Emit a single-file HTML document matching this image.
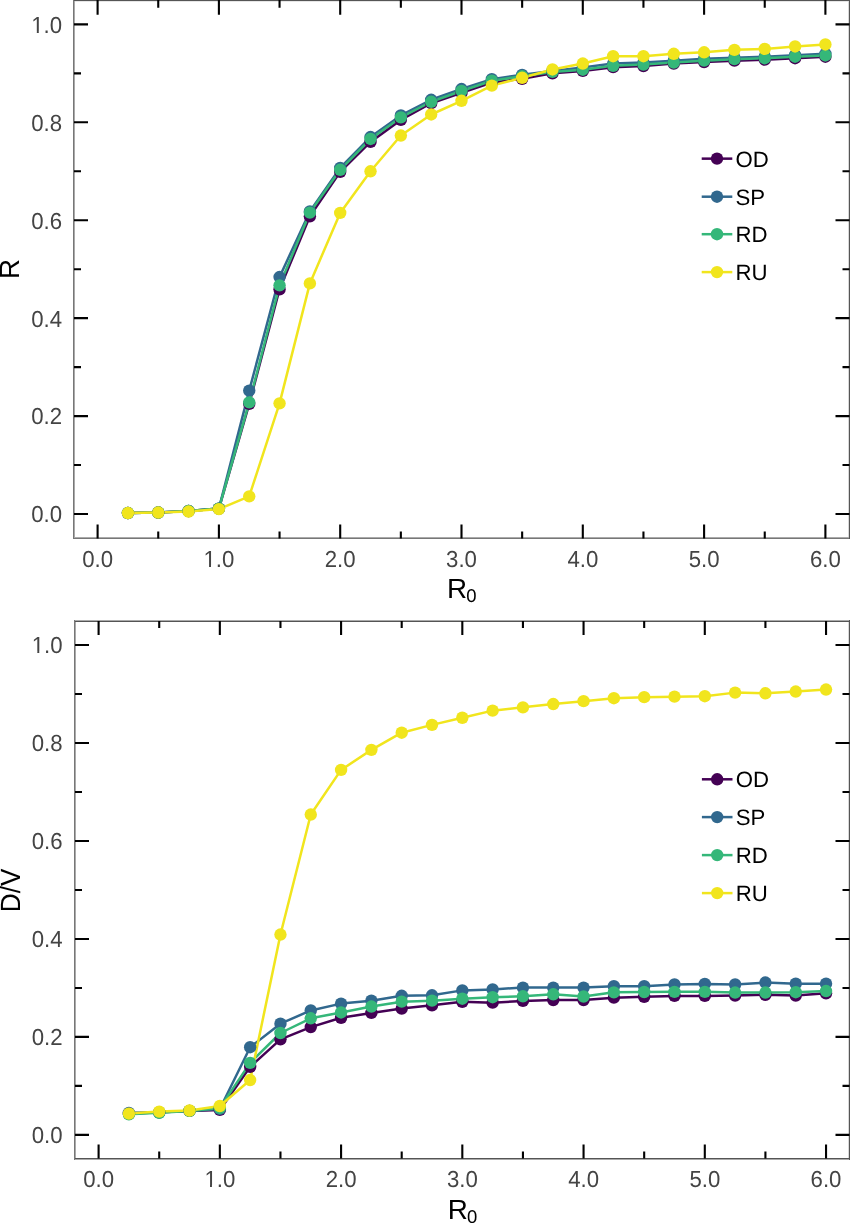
<!DOCTYPE html>
<html><head><meta charset="utf-8"><title>R and D/V vs R0</title>
<style>
html,body{margin:0;padding:0;background:#fff;}
body{width:850px;height:1223px;overflow:hidden;}
svg{display:block;font-family:"Liberation Sans", sans-serif;will-change:transform;text-rendering:geometricPrecision;}
</style></head>
<body>
<svg width="850" height="1223" viewBox="0 0 850 1223">
<rect width="850" height="1223" fill="#fff"/>
<defs><clipPath id="c0"><path clip-rule="evenodd" d="M0 0H850 V1223 H0Z M204.55 565.07H209.05V568.5H204.55Z M211.01 565.07H215.39V568.5H211.01Z"/></clipPath><clipPath id="c1"><path clip-rule="evenodd" d="M0 0H850 V1223 H0Z M32.32 31.07H36.82V34.5H32.32Z M38.78 31.07H43.16V34.5H38.78Z"/></clipPath><clipPath id="c2"><path clip-rule="evenodd" d="M0 0H850 V1223 H0Z M205.49 1185.07H209.99V1188.5H205.49Z M211.95 1185.07H216.33V1188.5H211.95Z"/></clipPath><clipPath id="c3"><path clip-rule="evenodd" d="M0 0H850 V1223 H0Z M32.82 651.07H37.32V654.5H32.82Z M39.28 651.07H43.66V654.5H39.28Z"/></clipPath></defs>
<polyline points="127.92,513.02 158.25,512.53 188.57,511.06 218.9,508.61 249.22,403.84 279.55,289.27 309.88,216.32 340.2,171.77 370.52,141.9 400.85,119.87 431.17,103.23 461.5,92.94 491.82,82.66 522.15,78.75 552.48,73.36 582.8,70.91 613.12,67.14 643.45,66.02 673.77,63.57 704.1,62.1 734.42,60.63 764.75,59.65 795.08,58.18 825.4,56.71" fill="none" stroke="#440154" stroke-width="2.5" stroke-linejoin="round" stroke-linecap="butt"/>
<polyline points="127.92,513.02 158.25,512.53 188.57,511.06 218.9,508.61 249.22,390.62 279.55,277.03 309.88,211.43 340.2,167.85 370.52,137.01 400.85,115.47 431.17,99.8 461.5,89.03 491.82,79.24 522.15,74.83 552.48,70.91 582.8,67.48 613.12,63.57 643.45,62.59 673.77,60.63 704.1,58.67 734.42,57.69 764.75,56.71 795.08,55.24 825.4,53.78" fill="none" stroke="#31688e" stroke-width="2.5" stroke-linejoin="round" stroke-linecap="butt"/>
<polyline points="127.92,513.02 158.25,512.53 188.57,511.06 218.9,508.61 249.22,402.37 279.55,285.36 309.88,212.65 340.2,169.81 370.52,138.97 400.85,117.42 431.17,101.76 461.5,90.99 491.82,80.7 522.15,76.3 552.48,71.89 582.8,69.69 613.12,65.77 643.45,64.55 673.77,62.59 704.1,60.63 734.42,59.16 764.75,58.18 795.08,56.71 825.4,55.49" fill="none" stroke="#35b779" stroke-width="2.5" stroke-linejoin="round" stroke-linecap="butt"/>
<polyline points="127.92,513.02 158.25,512.53 188.57,511.55 218.9,509.1 249.22,496.37 279.55,403.35 309.88,283.4 340.2,212.9 370.52,171.28 400.85,135.54 431.17,114.49 461.5,100.78 491.82,85.6 522.15,77.77 552.48,69.44 582.8,63.57 613.12,56.22 643.45,56.22 673.77,53.78 704.1,52.31 734.42,49.86 764.75,48.88 795.08,46.43 825.4,44.47" fill="none" stroke="#f1e51d" stroke-width="2.5" stroke-linejoin="round" stroke-linecap="butt"/>
<g fill="#440154">
<circle cx="127.92" cy="513.02" r="6.2"/>
<circle cx="158.25" cy="512.53" r="6.2"/>
<circle cx="188.57" cy="511.06" r="6.2"/>
<circle cx="218.9" cy="508.61" r="6.2"/>
<circle cx="249.22" cy="403.84" r="6.2"/>
<circle cx="279.55" cy="289.27" r="6.2"/>
<circle cx="309.88" cy="216.32" r="6.2"/>
<circle cx="340.2" cy="171.77" r="6.2"/>
<circle cx="370.52" cy="141.9" r="6.2"/>
<circle cx="400.85" cy="119.87" r="6.2"/>
<circle cx="431.17" cy="103.23" r="6.2"/>
<circle cx="461.5" cy="92.94" r="6.2"/>
<circle cx="491.82" cy="82.66" r="6.2"/>
<circle cx="522.15" cy="78.75" r="6.2"/>
<circle cx="552.48" cy="73.36" r="6.2"/>
<circle cx="582.8" cy="70.91" r="6.2"/>
<circle cx="613.12" cy="67.14" r="6.2"/>
<circle cx="643.45" cy="66.02" r="6.2"/>
<circle cx="673.77" cy="63.57" r="6.2"/>
<circle cx="704.1" cy="62.1" r="6.2"/>
<circle cx="734.42" cy="60.63" r="6.2"/>
<circle cx="764.75" cy="59.65" r="6.2"/>
<circle cx="795.08" cy="58.18" r="6.2"/>
<circle cx="825.4" cy="56.71" r="6.2"/>
</g>
<g fill="#31688e">
<circle cx="127.92" cy="513.02" r="6.2"/>
<circle cx="158.25" cy="512.53" r="6.2"/>
<circle cx="188.57" cy="511.06" r="6.2"/>
<circle cx="218.9" cy="508.61" r="6.2"/>
<circle cx="249.22" cy="390.62" r="6.2"/>
<circle cx="279.55" cy="277.03" r="6.2"/>
<circle cx="309.88" cy="211.43" r="6.2"/>
<circle cx="340.2" cy="167.85" r="6.2"/>
<circle cx="370.52" cy="137.01" r="6.2"/>
<circle cx="400.85" cy="115.47" r="6.2"/>
<circle cx="431.17" cy="99.8" r="6.2"/>
<circle cx="461.5" cy="89.03" r="6.2"/>
<circle cx="491.82" cy="79.24" r="6.2"/>
<circle cx="522.15" cy="74.83" r="6.2"/>
<circle cx="552.48" cy="70.91" r="6.2"/>
<circle cx="582.8" cy="67.48" r="6.2"/>
<circle cx="613.12" cy="63.57" r="6.2"/>
<circle cx="643.45" cy="62.59" r="6.2"/>
<circle cx="673.77" cy="60.63" r="6.2"/>
<circle cx="704.1" cy="58.67" r="6.2"/>
<circle cx="734.42" cy="57.69" r="6.2"/>
<circle cx="764.75" cy="56.71" r="6.2"/>
<circle cx="795.08" cy="55.24" r="6.2"/>
<circle cx="825.4" cy="53.78" r="6.2"/>
</g>
<g fill="#35b779">
<circle cx="127.92" cy="513.02" r="6.2"/>
<circle cx="158.25" cy="512.53" r="6.2"/>
<circle cx="188.57" cy="511.06" r="6.2"/>
<circle cx="218.9" cy="508.61" r="6.2"/>
<circle cx="249.22" cy="402.37" r="6.2"/>
<circle cx="279.55" cy="285.36" r="6.2"/>
<circle cx="309.88" cy="212.65" r="6.2"/>
<circle cx="340.2" cy="169.81" r="6.2"/>
<circle cx="370.52" cy="138.97" r="6.2"/>
<circle cx="400.85" cy="117.42" r="6.2"/>
<circle cx="431.17" cy="101.76" r="6.2"/>
<circle cx="461.5" cy="90.99" r="6.2"/>
<circle cx="491.82" cy="80.7" r="6.2"/>
<circle cx="522.15" cy="76.3" r="6.2"/>
<circle cx="552.48" cy="71.89" r="6.2"/>
<circle cx="582.8" cy="69.69" r="6.2"/>
<circle cx="613.12" cy="65.77" r="6.2"/>
<circle cx="643.45" cy="64.55" r="6.2"/>
<circle cx="673.77" cy="62.59" r="6.2"/>
<circle cx="704.1" cy="60.63" r="6.2"/>
<circle cx="734.42" cy="59.16" r="6.2"/>
<circle cx="764.75" cy="58.18" r="6.2"/>
<circle cx="795.08" cy="56.71" r="6.2"/>
<circle cx="825.4" cy="55.49" r="6.2"/>
</g>
<g fill="#f1e51d">
<circle cx="127.92" cy="513.02" r="6.2"/>
<circle cx="158.25" cy="512.53" r="6.2"/>
<circle cx="188.57" cy="511.55" r="6.2"/>
<circle cx="218.9" cy="509.1" r="6.2"/>
<circle cx="249.22" cy="496.37" r="6.2"/>
<circle cx="279.55" cy="403.35" r="6.2"/>
<circle cx="309.88" cy="283.4" r="6.2"/>
<circle cx="340.2" cy="212.9" r="6.2"/>
<circle cx="370.52" cy="171.28" r="6.2"/>
<circle cx="400.85" cy="135.54" r="6.2"/>
<circle cx="431.17" cy="114.49" r="6.2"/>
<circle cx="461.5" cy="100.78" r="6.2"/>
<circle cx="491.82" cy="85.6" r="6.2"/>
<circle cx="522.15" cy="77.77" r="6.2"/>
<circle cx="552.48" cy="69.44" r="6.2"/>
<circle cx="582.8" cy="63.57" r="6.2"/>
<circle cx="613.12" cy="56.22" r="6.2"/>
<circle cx="643.45" cy="56.22" r="6.2"/>
<circle cx="673.77" cy="53.78" r="6.2"/>
<circle cx="704.1" cy="52.31" r="6.2"/>
<circle cx="734.42" cy="49.86" r="6.2"/>
<circle cx="764.75" cy="48.88" r="6.2"/>
<circle cx="795.08" cy="46.43" r="6.2"/>
<circle cx="825.4" cy="44.47" r="6.2"/>
</g>
<line x1="701.7" y1="158.65" x2="732.3" y2="158.65" stroke="#440154" stroke-width="2.5"/>
<circle cx="717" cy="158.65" r="6.2" fill="#440154"/>
<g transform="translate(735.5,167)"><text x="0" y="0" font-size="22.2" fill="#000">OD</text></g>
<line x1="701.7" y1="196.7" x2="732.3" y2="196.7" stroke="#31688e" stroke-width="2.5"/>
<circle cx="717" cy="196.7" r="6.2" fill="#31688e"/>
<g transform="translate(735.5,205)"><text x="0" y="0" font-size="22.2" fill="#000">SP</text></g>
<line x1="701.7" y1="234.2" x2="732.3" y2="234.2" stroke="#35b779" stroke-width="2.5"/>
<circle cx="717" cy="234.2" r="6.2" fill="#35b779"/>
<g transform="translate(735.5,242)"><text x="0" y="0" font-size="22.2" fill="#000">RD</text></g>
<line x1="701.7" y1="272.1" x2="732.3" y2="272.1" stroke="#f1e51d" stroke-width="2.5"/>
<circle cx="717" cy="272.1" r="6.2" fill="#f1e51d"/>
<g transform="translate(735.5,280)"><text x="0" y="0" font-size="22.2" fill="#000">RU</text></g>
<rect x="73" y="0" width="777" height="1" fill="#555"/>
<rect x="73" y="1" width="777" height="1" fill="#e6e6e6"/>
<rect x="73" y="537" width="777" height="1" fill="#aaa"/>
<rect x="73" y="538" width="777" height="1" fill="#777"/>
<rect x="73" y="0" width="1" height="539" fill="#777"/>
<rect x="74" y="1" width="1" height="536" fill="#aaa"/>
<rect x="848" y="1" width="1" height="536" fill="#d8d8d8"/>
<rect x="849" y="0" width="1" height="539" fill="#555"/>
<path d="M97.6 538.5v-14M97.6 0v14.7M158.25 538.5v-7M158.25 0v7.7M218.9 538.5v-14M218.9 0v14.7M279.55 538.5v-7M279.55 0v7.7M340.2 538.5v-14M340.2 0v14.7M400.85 538.5v-7M400.85 0v7.7M461.5 538.5v-14M461.5 0v14.7M522.15 538.5v-7M522.15 0v7.7M582.8 538.5v-14M582.8 0v14.7M643.45 538.5v-7M643.45 0v7.7M704.1 538.5v-14M704.1 0v14.7M764.75 538.5v-7M764.75 0v7.7M825.4 538.5v-14M825.4 0v14.7M74 514h14M849.5 514h-14M74 465.04h7M849.5 465.04h-7M74 416.08h14M849.5 416.08h-14M74 367.12h7M849.5 367.12h-7M74 318.16h14M849.5 318.16h-14M74 269.2h7M849.5 269.2h-7M74 220.24h14M849.5 220.24h-14M74 171.28h7M849.5 171.28h-7M74 122.32h14M849.5 122.32h-14M74 73.36h7M849.5 73.36h-7M74 24.4h14M849.5 24.4h-14" stroke="#000" stroke-width="2.1" fill="none"/>
<g transform="translate(97.6,567) scale(1,1.045)"><text x="0" y="0" font-size="22.2" fill="#444444" text-anchor="middle">0.0</text></g>
<g clip-path="url(#c0)"><g transform="translate(218.9,567) scale(1,1.045)"><text x="0" y="0" font-size="22.2" fill="#444444" text-anchor="middle">1.0</text></g></g>
<g transform="translate(340.2,567) scale(1,1.045)"><text x="0" y="0" font-size="22.2" fill="#444444" text-anchor="middle">2.0</text></g>
<g transform="translate(461.5,567) scale(1,1.045)"><text x="0" y="0" font-size="22.2" fill="#444444" text-anchor="middle">3.0</text></g>
<g transform="translate(582.8,567) scale(1,1.045)"><text x="0" y="0" font-size="22.2" fill="#444444" text-anchor="middle">4.0</text></g>
<g transform="translate(704.1,567) scale(1,1.045)"><text x="0" y="0" font-size="22.2" fill="#444444" text-anchor="middle">5.0</text></g>
<g transform="translate(825.4,567) scale(1,1.045)"><text x="0" y="0" font-size="22.2" fill="#444444" text-anchor="middle">6.0</text></g>
<g transform="translate(62.1,522) scale(1,1.045)"><text x="0" y="0" font-size="22.2" fill="#444444" text-anchor="end">0.0</text></g>
<g transform="translate(62.1,424) scale(1,1.045)"><text x="0" y="0" font-size="22.2" fill="#444444" text-anchor="end">0.2</text></g>
<g transform="translate(62.1,327) scale(1,1.045)"><text x="0" y="0" font-size="22.2" fill="#444444" text-anchor="end">0.4</text></g>
<g transform="translate(62.1,229) scale(1,1.045)"><text x="0" y="0" font-size="22.2" fill="#444444" text-anchor="end">0.6</text></g>
<g transform="translate(62.1,131) scale(1,1.045)"><text x="0" y="0" font-size="22.2" fill="#444444" text-anchor="end">0.8</text></g>
<g clip-path="url(#c1)"><g transform="translate(62.1,33) scale(1,1.045)"><text x="0" y="0" font-size="22.2" fill="#444444" text-anchor="end">1.0</text></g></g>
<g transform="translate(447,598)"><text x="0" y="0" font-size="27.8" fill="#000">R<tspan x="19.2" y="4.4" font-size="18.5">0</tspan></text></g>
<g transform="translate(19.4,269) rotate(-90)"><text x="0" y="0" font-size="27.8" fill="#000" text-anchor="middle">R</text></g>
<polyline points="128.91,1113.83 159.22,1112.36 189.53,1110.89 219.84,1109.92 250.15,1066.8 280.46,1039.37 310.77,1027.12 341.08,1017.81 371.39,1012.91 401.7,1008.51 432.01,1005.32 462.32,1001.79 492.63,1002.63 522.94,1000.91 553.25,1000.03 583.56,1000.03 613.87,997.63 644.18,996.8 674.49,995.92 704.8,995.92 735.11,995.62 765.42,994.79 795.73,995.62 826.04,993.32" fill="none" stroke="#440154" stroke-width="2.5" stroke-linejoin="round" stroke-linecap="butt"/>
<polyline points="128.91,1112.85 159.22,1112.36 189.53,1110.89 219.84,1108.94 250.15,1047.21 280.46,1023.69 310.77,1010.47 341.08,1003.61 371.39,1000.67 401.7,995.77 432.01,995.28 462.32,990.38 492.63,989.4 522.94,987.59 553.25,987.59 583.56,987.59 613.87,986.22 644.18,986.22 674.49,984.4 704.8,983.91 735.11,984.5 765.42,982.54 795.73,983.72 826.04,983.72" fill="none" stroke="#31688e" stroke-width="2.5" stroke-linejoin="round" stroke-linecap="butt"/>
<polyline points="128.91,1114.32 159.22,1112.85 189.53,1110.89 219.84,1107.96 250.15,1062.88 280.46,1033 310.77,1018.3 341.08,1012.43 371.39,1006.55 401.7,1001.65 432.01,1000.67 462.32,998.71 492.63,997.24 522.94,996.26 553.25,994.3 583.56,996.5 613.87,992.34 644.18,992 674.49,991.85 704.8,991.85 735.11,992.54 765.42,992.54 795.73,992.24 826.04,991.02" fill="none" stroke="#35b779" stroke-width="2.5" stroke-linejoin="round" stroke-linecap="butt"/>
<polyline points="128.91,1113.59 159.22,1111.58 189.53,1110.5 219.84,1106 250.15,1080.03 280.46,934.53 310.77,814.51 341.08,769.92 371.39,749.84 401.7,732.69 432.01,724.85 462.32,717.75 492.63,710.65 522.94,707.36 553.25,704.03 583.56,701.14 613.87,698.2 644.18,697.13 674.49,696.64 704.8,696.24 735.11,692.62 765.42,693.3 795.73,691.54 826.04,689.53" fill="none" stroke="#f1e51d" stroke-width="2.5" stroke-linejoin="round" stroke-linecap="butt"/>
<g fill="#440154">
<circle cx="128.91" cy="1113.83" r="6.2"/>
<circle cx="159.22" cy="1112.36" r="6.2"/>
<circle cx="189.53" cy="1110.89" r="6.2"/>
<circle cx="219.84" cy="1109.92" r="6.2"/>
<circle cx="250.15" cy="1066.8" r="6.2"/>
<circle cx="280.46" cy="1039.37" r="6.2"/>
<circle cx="310.77" cy="1027.12" r="6.2"/>
<circle cx="341.08" cy="1017.81" r="6.2"/>
<circle cx="371.39" cy="1012.91" r="6.2"/>
<circle cx="401.7" cy="1008.51" r="6.2"/>
<circle cx="432.01" cy="1005.32" r="6.2"/>
<circle cx="462.32" cy="1001.79" r="6.2"/>
<circle cx="492.63" cy="1002.63" r="6.2"/>
<circle cx="522.94" cy="1000.91" r="6.2"/>
<circle cx="553.25" cy="1000.03" r="6.2"/>
<circle cx="583.56" cy="1000.03" r="6.2"/>
<circle cx="613.87" cy="997.63" r="6.2"/>
<circle cx="644.18" cy="996.8" r="6.2"/>
<circle cx="674.49" cy="995.92" r="6.2"/>
<circle cx="704.8" cy="995.92" r="6.2"/>
<circle cx="735.11" cy="995.62" r="6.2"/>
<circle cx="765.42" cy="994.79" r="6.2"/>
<circle cx="795.73" cy="995.62" r="6.2"/>
<circle cx="826.04" cy="993.32" r="6.2"/>
</g>
<g fill="#31688e">
<circle cx="128.91" cy="1112.85" r="6.2"/>
<circle cx="159.22" cy="1112.36" r="6.2"/>
<circle cx="189.53" cy="1110.89" r="6.2"/>
<circle cx="219.84" cy="1108.94" r="6.2"/>
<circle cx="250.15" cy="1047.21" r="6.2"/>
<circle cx="280.46" cy="1023.69" r="6.2"/>
<circle cx="310.77" cy="1010.47" r="6.2"/>
<circle cx="341.08" cy="1003.61" r="6.2"/>
<circle cx="371.39" cy="1000.67" r="6.2"/>
<circle cx="401.7" cy="995.77" r="6.2"/>
<circle cx="432.01" cy="995.28" r="6.2"/>
<circle cx="462.32" cy="990.38" r="6.2"/>
<circle cx="492.63" cy="989.4" r="6.2"/>
<circle cx="522.94" cy="987.59" r="6.2"/>
<circle cx="553.25" cy="987.59" r="6.2"/>
<circle cx="583.56" cy="987.59" r="6.2"/>
<circle cx="613.87" cy="986.22" r="6.2"/>
<circle cx="644.18" cy="986.22" r="6.2"/>
<circle cx="674.49" cy="984.4" r="6.2"/>
<circle cx="704.8" cy="983.91" r="6.2"/>
<circle cx="735.11" cy="984.5" r="6.2"/>
<circle cx="765.42" cy="982.54" r="6.2"/>
<circle cx="795.73" cy="983.72" r="6.2"/>
<circle cx="826.04" cy="983.72" r="6.2"/>
</g>
<g fill="#35b779">
<circle cx="128.91" cy="1114.32" r="6.2"/>
<circle cx="159.22" cy="1112.85" r="6.2"/>
<circle cx="189.53" cy="1110.89" r="6.2"/>
<circle cx="219.84" cy="1107.96" r="6.2"/>
<circle cx="250.15" cy="1062.88" r="6.2"/>
<circle cx="280.46" cy="1033" r="6.2"/>
<circle cx="310.77" cy="1018.3" r="6.2"/>
<circle cx="341.08" cy="1012.43" r="6.2"/>
<circle cx="371.39" cy="1006.55" r="6.2"/>
<circle cx="401.7" cy="1001.65" r="6.2"/>
<circle cx="432.01" cy="1000.67" r="6.2"/>
<circle cx="462.32" cy="998.71" r="6.2"/>
<circle cx="492.63" cy="997.24" r="6.2"/>
<circle cx="522.94" cy="996.26" r="6.2"/>
<circle cx="553.25" cy="994.3" r="6.2"/>
<circle cx="583.56" cy="996.5" r="6.2"/>
<circle cx="613.87" cy="992.34" r="6.2"/>
<circle cx="644.18" cy="992" r="6.2"/>
<circle cx="674.49" cy="991.85" r="6.2"/>
<circle cx="704.8" cy="991.85" r="6.2"/>
<circle cx="735.11" cy="992.54" r="6.2"/>
<circle cx="765.42" cy="992.54" r="6.2"/>
<circle cx="795.73" cy="992.24" r="6.2"/>
<circle cx="826.04" cy="991.02" r="6.2"/>
</g>
<g fill="#f1e51d">
<circle cx="128.91" cy="1113.59" r="6.2"/>
<circle cx="159.22" cy="1111.58" r="6.2"/>
<circle cx="189.53" cy="1110.5" r="6.2"/>
<circle cx="219.84" cy="1106" r="6.2"/>
<circle cx="250.15" cy="1080.03" r="6.2"/>
<circle cx="280.46" cy="934.53" r="6.2"/>
<circle cx="310.77" cy="814.51" r="6.2"/>
<circle cx="341.08" cy="769.92" r="6.2"/>
<circle cx="371.39" cy="749.84" r="6.2"/>
<circle cx="401.7" cy="732.69" r="6.2"/>
<circle cx="432.01" cy="724.85" r="6.2"/>
<circle cx="462.32" cy="717.75" r="6.2"/>
<circle cx="492.63" cy="710.65" r="6.2"/>
<circle cx="522.94" cy="707.36" r="6.2"/>
<circle cx="553.25" cy="704.03" r="6.2"/>
<circle cx="583.56" cy="701.14" r="6.2"/>
<circle cx="613.87" cy="698.2" r="6.2"/>
<circle cx="644.18" cy="697.13" r="6.2"/>
<circle cx="674.49" cy="696.64" r="6.2"/>
<circle cx="704.8" cy="696.24" r="6.2"/>
<circle cx="735.11" cy="692.62" r="6.2"/>
<circle cx="765.42" cy="693.3" r="6.2"/>
<circle cx="795.73" cy="691.54" r="6.2"/>
<circle cx="826.04" cy="689.53" r="6.2"/>
</g>
<line x1="701.9" y1="779.3" x2="732.5" y2="779.3" stroke="#440154" stroke-width="2.5"/>
<circle cx="717.2" cy="779.3" r="6.2" fill="#440154"/>
<g transform="translate(735.7,787)"><text x="0" y="0" font-size="22.2" fill="#000">OD</text></g>
<line x1="701.9" y1="817.1" x2="732.5" y2="817.1" stroke="#31688e" stroke-width="2.5"/>
<circle cx="717.2" cy="817.1" r="6.2" fill="#31688e"/>
<g transform="translate(735.7,825)"><text x="0" y="0" font-size="22.2" fill="#000">SP</text></g>
<line x1="701.9" y1="855.1" x2="732.5" y2="855.1" stroke="#35b779" stroke-width="2.5"/>
<circle cx="717.2" cy="855.1" r="6.2" fill="#35b779"/>
<g transform="translate(735.7,863)"><text x="0" y="0" font-size="22.2" fill="#000">RD</text></g>
<line x1="701.9" y1="893.1" x2="732.5" y2="893.1" stroke="#f1e51d" stroke-width="2.5"/>
<circle cx="717.2" cy="893.1" r="6.2" fill="#f1e51d"/>
<g transform="translate(735.7,901)"><text x="0" y="0" font-size="22.2" fill="#000">RU</text></g>
<rect x="74" y="620" width="776" height="1" fill="#aaa"/>
<rect x="74" y="621" width="776" height="1" fill="#555"/>
<rect x="74" y="1158" width="776" height="1" fill="#555"/>
<rect x="74" y="1159" width="776" height="1" fill="#aaa"/>
<rect x="74" y="620" width="1" height="540" fill="#777"/>
<rect x="75" y="622" width="1" height="536" fill="#aaa"/>
<rect x="848" y="622" width="1" height="536" fill="#d8d8d8"/>
<rect x="849" y="620" width="1" height="540" fill="#555"/>
<path d="M98.6 1158.5v-14M98.6 621v14M159.22 1158.5v-7M159.22 621v7M219.84 1158.5v-14M219.84 621v14M280.46 1158.5v-7M280.46 621v7M341.08 1158.5v-14M341.08 621v14M401.7 1158.5v-7M401.7 621v7M462.32 1158.5v-14M462.32 621v14M522.94 1158.5v-7M522.94 621v7M583.56 1158.5v-14M583.56 621v14M644.18 1158.5v-7M644.18 621v7M704.8 1158.5v-14M704.8 621v14M765.42 1158.5v-7M765.42 621v7M826.04 1158.5v-14M826.04 621v14M75 1134.9h14M849.5 1134.9h-14M75 1085.91h7M849.5 1085.91h-7M75 1036.92h14M849.5 1036.92h-14M75 987.93h7M849.5 987.93h-7M75 938.94h14M849.5 938.94h-14M75 889.95h7M849.5 889.95h-7M75 840.96h14M849.5 840.96h-14M75 791.97h7M849.5 791.97h-7M75 742.98h14M849.5 742.98h-14M75 693.99h7M849.5 693.99h-7M75 645h14M849.5 645h-14" stroke="#000" stroke-width="2.1" fill="none"/>
<g transform="translate(98.6,1187) scale(1,1.045)"><text x="0" y="0" font-size="22.2" fill="#444444" text-anchor="middle">0.0</text></g>
<g clip-path="url(#c2)"><g transform="translate(219.84,1187) scale(1,1.045)"><text x="0" y="0" font-size="22.2" fill="#444444" text-anchor="middle">1.0</text></g></g>
<g transform="translate(341.08,1187) scale(1,1.045)"><text x="0" y="0" font-size="22.2" fill="#444444" text-anchor="middle">2.0</text></g>
<g transform="translate(462.32,1187) scale(1,1.045)"><text x="0" y="0" font-size="22.2" fill="#444444" text-anchor="middle">3.0</text></g>
<g transform="translate(583.56,1187) scale(1,1.045)"><text x="0" y="0" font-size="22.2" fill="#444444" text-anchor="middle">4.0</text></g>
<g transform="translate(704.8,1187) scale(1,1.045)"><text x="0" y="0" font-size="22.2" fill="#444444" text-anchor="middle">5.0</text></g>
<g transform="translate(826.04,1187) scale(1,1.045)"><text x="0" y="0" font-size="22.2" fill="#444444" text-anchor="middle">6.0</text></g>
<g transform="translate(62.6,1143) scale(1,1.045)"><text x="0" y="0" font-size="22.2" fill="#444444" text-anchor="end">0.0</text></g>
<g transform="translate(62.6,1045) scale(1,1.045)"><text x="0" y="0" font-size="22.2" fill="#444444" text-anchor="end">0.2</text></g>
<g transform="translate(62.6,947) scale(1,1.045)"><text x="0" y="0" font-size="22.2" fill="#444444" text-anchor="end">0.4</text></g>
<g transform="translate(62.6,849) scale(1,1.045)"><text x="0" y="0" font-size="22.2" fill="#444444" text-anchor="end">0.6</text></g>
<g transform="translate(62.6,751) scale(1,1.045)"><text x="0" y="0" font-size="22.2" fill="#444444" text-anchor="end">0.8</text></g>
<g clip-path="url(#c3)"><g transform="translate(62.6,653) scale(1,1.045)"><text x="0" y="0" font-size="22.2" fill="#444444" text-anchor="end">1.0</text></g></g>
<g transform="translate(447.7,1219)"><text x="0" y="0" font-size="27.8" fill="#000">R<tspan x="19.2" y="4.4" font-size="18.5">0</tspan></text></g>
<g transform="translate(20,890.4) rotate(-90) scale(0.94,1.000)"><text x="0" y="0" font-size="27.8" fill="#000" text-anchor="middle">D/V</text></g>
</svg>
</body></html>
